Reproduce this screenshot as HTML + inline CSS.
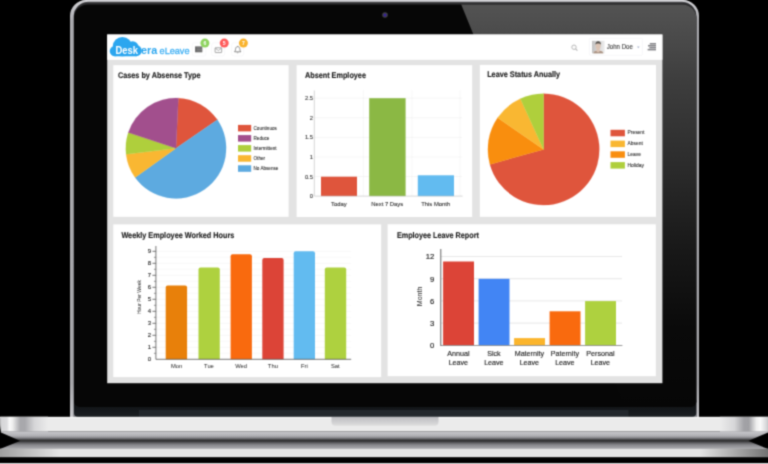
<!DOCTYPE html>
<html><head><meta charset="utf-8">
<style>
html,body{margin:0;padding:0;background:#000;}
body{width:768px;height:464px;overflow:hidden;position:relative;font-family:"Liberation Sans",sans-serif;}
svg{position:absolute;left:0;top:0;display:block;filter:url(#blr);}
text{font-family:"Liberation Sans",sans-serif;}
</style></head><body>
<svg width="768" height="464" viewBox="0 0 768 464">
<defs>
<filter id="blr" x="0" y="0" width="768" height="464" filterUnits="userSpaceOnUse" color-interpolation-filters="sRGB"><feConvolveMatrix order="3" kernelMatrix="0.0361 0.1178 0.0361 0.1178 0.3846 0.1178 0.0361 0.1178 0.0361" edgeMode="duplicate" preserveAlpha="true"/></filter>
<linearGradient id="lidEdge" x1="0" y1="0" x2="0" y2="1"><stop offset="0" stop-color="#d4d4d8"/><stop offset="0.05" stop-color="#aaaaae"/><stop offset="0.92" stop-color="#a6a6aa"/><stop offset="1" stop-color="#c6c6ca"/></linearGradient>
<linearGradient id="glare" x1="0" y1="0" x2="0" y2="1"><stop offset="0" stop-color="#545454"/><stop offset="0.12" stop-color="#474747"/><stop offset="0.2" stop-color="#3d3d3d"/><stop offset="0.4" stop-color="#2c2c2c"/><stop offset="0.6" stop-color="#191919"/><stop offset="0.8" stop-color="#0a0a0a"/><stop offset="1" stop-color="#060606"/></linearGradient>
<linearGradient id="hinge" x1="0" y1="0" x2="0" y2="1"><stop offset="0" stop-color="#0c0e10"/><stop offset="1" stop-color="#1b1f23"/></linearGradient>
<linearGradient id="baseV" x1="0" y1="0" x2="0" y2="1">
 <stop offset="0" stop-color="#f4f4f4"/><stop offset="0.6" stop-color="#ececec"/><stop offset="0.61" stop-color="#b0b0b2"/><stop offset="1" stop-color="#2a2a2a"/></linearGradient>
<linearGradient id="reflV" x1="0" y1="0" x2="0" y2="1">
 <stop offset="0" stop-color="#2a2a2a"/><stop offset="0.46" stop-color="#a8a8aa"/><stop offset="0.48" stop-color="#e2e2e2"/><stop offset="1" stop-color="#e6e6e6"/></linearGradient>
<linearGradient id="notch" x1="0" y1="0" x2="0" y2="1"><stop offset="0" stop-color="#bcbcc0"/><stop offset="1" stop-color="#dedede"/></linearGradient>
<linearGradient id="baseL" x1="0" y1="0" x2="1" y2="0">
 <stop offset="0" stop-color="#fff" stop-opacity="0.9"/><stop offset="0.15" stop-color="#fff" stop-opacity="0.2"/><stop offset="0.4" stop-color="#777" stop-opacity="0.45"/><stop offset="0.7" stop-color="#fff" stop-opacity="0.3"/><stop offset="1" stop-color="#fff" stop-opacity="0"/></linearGradient>
<linearGradient id="baseR" x1="1" y1="0" x2="0" y2="0">
 <stop offset="0" stop-color="#fff" stop-opacity="0.9"/><stop offset="0.15" stop-color="#fff" stop-opacity="0.2"/><stop offset="0.4" stop-color="#777" stop-opacity="0.45"/><stop offset="0.7" stop-color="#fff" stop-opacity="0.3"/><stop offset="1" stop-color="#fff" stop-opacity="0"/></linearGradient>
<clipPath id="bezelClip"><path d="M88,4.4 H682.2 A14,13 0 0 1 696.2,17.4 V402 A5,5 0 0 1 691.2,407 H79 A5,5 0 0 1 74,402 V17.4 A14,13 0 0 1 88,4.4Z"/></clipPath>
</defs>

<!-- background -->
<rect width="768" height="464" fill="#000"/>

<!-- lid silver edge -->
<path d="M86,0 H683 A16,16 0 0 1 699,16 V417 H70 V16 A16,16 0 0 1 86,0Z" fill="url(#lidEdge)"/>
<path d="M88,2.2 H682.2 A14,14 0 0 1 696.2,16.2 V417 H74 V16.2 A14,14 0 0 1 88,2.2Z" fill="none" stroke="#58585c" stroke-width="0.9"/>
<!-- hinge strip -->
<path d="M74,400 H696.2 V413 A4,4 0 0 1 692.2,417 H78 A4,4 0 0 1 74,413Z" fill="url(#hinge)"/>
<rect x="139" y="410" width="489.5" height="7.5" fill="#23282d"/>
<!-- bezel -->
<path d="M88,2.2 H682.2 A14,14 0 0 1 696.2,16.2 V402 A5,5 0 0 1 691.2,407 H79 A5,5 0 0 1 74,402 V16.2 A14,14 0 0 1 88,2.2Z" fill="#2e2e30"/>
<path d="M88,4.4 H682.2 A14,13 0 0 1 696.2,17.4 V402 A5,5 0 0 1 691.2,407 H79 A5,5 0 0 1 74,402 V17.4 A14,13 0 0 1 88,4.4Z" fill="#060606"/>
<!-- glare -->
<g clip-path="url(#bezelClip)">
<path d="M459.4,0 H700 V410 H625.9 Z" fill="url(#glare)"/>
</g>
<!-- camera -->
<circle cx="385" cy="15" r="2.8" fill="#404044"/><circle cx="385" cy="15" r="1.5" fill="#34209a"/>

<!-- screen -->
<rect x="107.2" y="34.5" width="555.2" height="348.7" fill="#e3e3e3"/>
<rect x="107.2" y="34.5" width="555.2" height="25.3" fill="#fff"/>

<!-- cards -->
<g fill="#fff">
<rect x="113.3" y="65.2" width="175.3" height="151.6"/>
<rect x="296.6" y="65.2" width="175.6" height="151.8"/>
<rect x="479.8" y="64.9" width="176.2" height="151.9"/>
<rect x="113.3" y="224.4" width="267.9" height="152.7"/>
<rect x="387.6" y="224.3" width="268.2" height="151.9"/>
</g>

<!-- header: logo -->
<g>
<g fill="#2ba6ef">
<circle cx="122.4" cy="46.6" r="9.7"/>
<circle cx="132.6" cy="47.2" r="6"/>
<circle cx="114.9" cy="51.1" r="5.2"/>
<circle cx="136.2" cy="50.6" r="5.6"/>
<rect x="114.5" y="47" width="22" height="9.3"/>
</g>
<text transform="translate(115.4,53.8) scale(0.9,1.04)" font-size="10.8" font-weight="bold" fill="#fff" textLength="25" lengthAdjust="spacingAndGlyphs">Desk</text>
<text transform="translate(141.1,53.8) scale(1,1.04)" font-size="10.6" font-weight="bold" fill="#2ba6ef" textLength="16.2" lengthAdjust="spacingAndGlyphs">era</text>
<text transform="translate(159.6,53.9) rotate(0.02) scale(1,1.05)" font-size="9.4" fill="#3fb0f4" stroke="#3fb0f4" stroke-width="0.3" textLength="29.9" lengthAdjust="spacingAndGlyphs">eLeave</text>
</g>
<!-- header icons -->
<g>
<rect x="192.3" y="42.8" width="13.6" height="13.2" rx="2.2" fill="#fff" stroke="#f3f3f7" stroke-width="0.6"/>
<rect x="195.1" y="46.4" width="7.2" height="5.9" fill="#666"/>
<path d="M196.6,47.9h5.7M196.6,49.4h5.7M196.6,50.9h5.7" stroke="#9c9c9c" stroke-width="0.5"/>
<circle cx="204.9" cy="43.1" r="4.5" fill="#8fd460"/>
<text x="204.9" y="44.9" font-size="5.1" font-weight="bold" fill="#fff" text-anchor="middle">6</text>

<rect x="211.7" y="42.8" width="13" height="13.2" rx="2.2" fill="#fff" stroke="#f3f3f7" stroke-width="0.6"/>
<rect x="215.1" y="47.8" width="6.6" height="4.8" rx="0.5" fill="none" stroke="#8c8c8c" stroke-width="0.75"/>
<path d="M215.2,48 L218.4,50.6 L221.6,48" fill="none" stroke="#8c8c8c" stroke-width="0.7"/>
<circle cx="224.25" cy="43.1" r="4.5" fill="#ff5b5b"/>
<text x="224.25" y="44.9" font-size="5.1" font-weight="bold" fill="#fff" text-anchor="middle">5</text>

<rect x="231.7" y="42.8" width="12" height="13.2" rx="2.2" fill="#fff" stroke="#f3f3f7" stroke-width="0.6"/>
<path d="M234.5,51.8 C235.6,51 235.4,49.6 235.6,48.6 C235.9,47.2 236.8,46.6 237.7,46.6 C238.6,46.6 239.5,47.2 239.8,48.6 C240,49.6 239.8,51 240.9,51.8 Z" fill="none" stroke="#666" stroke-width="0.7" stroke-linejoin="round"/>
<path d="M237,52.5 a0.8,0.8 0 0 0 1.4,0" fill="none" stroke="#666" stroke-width="0.6"/>
<path d="M237.7,46.6V45.9" stroke="#666" stroke-width="0.6"/>
<circle cx="243.4" cy="43.1" r="4.5" fill="#f9b32e"/>
<text x="243.4" y="44.9" font-size="5.1" font-weight="bold" fill="#fff" text-anchor="middle">7</text>
</g>
<!-- header right -->
<g>
<linearGradient id="avbg" x1="0" y1="0" x2="1" y2="0"><stop offset="0" stop-color="#c2c2c2"/><stop offset="1" stop-color="#ececec"/></linearGradient>
<circle cx="574" cy="47.2" r="2.2" fill="none" stroke="#b4b4b4" stroke-width="0.95"/>
<path d="M575.6,48.8 L577.4,50.6" stroke="#b4b4b4" stroke-width="1.1"/>
<rect x="589.4" y="38.3" width="53" height="17" rx="1" fill="#fff" stroke="#f1f1f5" stroke-width="0.6"/>
<rect x="592" y="40.8" width="12.6" height="12.5" fill="url(#avbg)"/>
<path d="M593.4,53.3 C593.8,51.2 595.4,50.8 596.6,50.4 L596.6,49 C595.6,48 595.4,46 595.7,44.6 C596,43 597,42.2 598.2,42.2 C599.5,42.2 600.5,43 600.7,44.6 C600.9,46 600.6,48 599.6,49 L599.6,50.4 C600.8,50.8 603,51.2 603.4,53.3 Z" fill="#dcc4b4"/>
<path d="M595.5,44.8 C595.2,42.6 596.4,41.3 598.2,41.3 C600,41.3 601.2,42.6 600.9,44.8 C600.5,43.8 599.8,43.5 598.2,43.5 C596.6,43.5 595.9,43.8 595.5,44.8Z" fill="#54504c"/>
<path d="M593.4,53.3 C593.8,51.6 595,51.2 596,51 L598.1,52.6 L600.2,51 C601.3,51.2 603,51.6 603.4,53.3Z" fill="#a89282"/>
<text x="606.8" y="49.1" font-size="6.6" fill="#3c3c3c" stroke="#3c3c3c" stroke-width="0.12" textLength="26" lengthAdjust="spacingAndGlyphs">John Doe</text>
<path d="M637,46.5 h2.6 l-1.3,1.7z" fill="#a8b2cc"/>
<g fill="#858589"><rect x="649.8" y="43" width="6.2" height="1.55"/><rect x="648" y="44.95" width="8" height="1.55"/><rect x="649.4" y="46.9" width="6.6" height="1.55"/><rect x="647.6" y="48.85" width="8.4" height="1.55"/></g>
</g>

<!-- card titles -->
<g font-weight="bold" font-size="8.2" fill="#1c1c1c" stroke="#1c1c1c" stroke-width="0.14" transform="rotate(0.03)">
<text x="118" y="78.3" textLength="82.5" lengthAdjust="spacingAndGlyphs">Cases by Absense Type</text>
<text x="305" y="78.3" textLength="61" lengthAdjust="spacingAndGlyphs">Absent Employee</text>
<text x="487.2" y="76.5" textLength="73" lengthAdjust="spacingAndGlyphs">Leave Status Anually</text>
<text x="121.5" y="238" textLength="113" lengthAdjust="spacingAndGlyphs">Weekly Employee Worked Hours</text>
<text x="397" y="238.2" textLength="82" lengthAdjust="spacingAndGlyphs">Employee Leave Report</text>
</g>

<!-- pie 1 -->
<g>
<path d="M176.0,148.3L178.36,98.16A50.2,50.2 0 0 1 217.37,119.87Z" fill="#DF553C" stroke="#DF553C" stroke-width="0.3"/>
<path d="M176.0,148.3L217.37,119.87A50.2,50.2 0 0 1 135.13,177.45Z" fill="#5DAAE0" stroke="#5DAAE0" stroke-width="0.3"/>
<path d="M176.0,148.3L135.13,177.45A50.2,50.2 0 0 1 126.14,154.16Z" fill="#F9B732" stroke="#F9B732" stroke-width="0.3"/>
<path d="M176.0,148.3L126.14,154.16A50.2,50.2 0 0 1 128.34,132.54Z" fill="#AFCF3C" stroke="#AFCF3C" stroke-width="0.3"/>
<path d="M176.0,148.3L128.34,132.54A50.2,50.2 0 0 1 178.36,98.16Z" fill="#A24F8D" stroke="#A24F8D" stroke-width="0.3"/>
<g>
<rect x="238" y="124.9" width="13.2" height="6.5" fill="#DF553C"/>
<rect x="238" y="135.1" width="13.2" height="6.5" fill="#A24F8D"/>
<rect x="238" y="145.1" width="13.2" height="6.5" fill="#AFCF3C"/>
<rect x="238" y="155.2" width="13.2" height="6.5" fill="#F9B732"/>
<rect x="238" y="165.3" width="13.2" height="6.5" fill="#5DAAE0"/>
</g>
<g font-size="4.6" fill="#2c2c2c" stroke="#2c2c2c" stroke-width="0.08" transform="rotate(0.02)">
<text x="253.6" y="129.6">Countinuos</text>
<text x="253.6" y="139.9">Reduce</text>
<text x="253.6" y="149.9">Intermittent</text>
<text x="253.6" y="159.9">Other</text>
<text x="253.6" y="170.1">No Absense</text>
</g>
</g>

<!-- bar chart 2 -->
<g>
<g stroke="#ececec" stroke-width="0.5">
<path d="M314.3,98.2H462M314.3,117.8H462M314.3,137.4H462M314.3,157H462M314.3,176.5H462"/>
</g>
<g stroke="#e2e2e2" stroke-width="0.5" stroke-dasharray="1,1">
<path d="M363.3,90.5V196M411.9,90.5V196M460,90.5V196"/>
</g>
<rect x="321" y="176.7" width="36" height="19.4" fill="#DF553C"/>
<rect x="369.2" y="98.2" width="36.4" height="97.9" fill="#8BB844"/>
<rect x="417.8" y="175.3" width="36.2" height="20.8" fill="#62BBF0"/>
<path d="M314.3,90.5V196.1H462.6" fill="none" stroke="#bbb" stroke-width="0.6"/>
<g font-size="5.8" fill="#2a2a2a" stroke="#2a2a2a" stroke-width="0.08" text-anchor="end" transform="rotate(0.02)">
<text x="313" y="100.2">2.5</text>
<text x="313" y="119.8">2</text>
<text x="313" y="139.4">1.5</text>
<text x="313" y="159">1</text>
<text x="313" y="178.5">0.5</text>
<text x="313" y="198.1">0</text>
</g>
<g font-size="5.9" fill="#2a2a2a" stroke="#2a2a2a" stroke-width="0.08" text-anchor="middle" transform="rotate(0.02)">
<text x="339" y="206">Today</text>
<text x="387.3" y="206">Next 7 Days</text>
<text x="435.8" y="206">This Month</text>
</g>
</g>

<!-- pie 3 -->
<g>
<path d="M543.6,149.4L543.60,93.70A55.7,55.7 0 1 1 489.95,164.38Z" fill="#DF553C" stroke="#DF553C" stroke-width="0.3"/>
<path d="M543.6,149.4L489.95,164.38A55.7,55.7 0 0 1 497.70,117.85Z" fill="#F98E0E" stroke="#F98E0E" stroke-width="0.3"/>
<path d="M543.6,149.4L497.70,117.85A55.7,55.7 0 0 1 520.41,98.76Z" fill="#F9B732" stroke="#F9B732" stroke-width="0.3"/>
<path d="M543.6,149.4L520.41,98.76A55.7,55.7 0 0 1 543.60,93.70Z" fill="#AFCF3C" stroke="#AFCF3C" stroke-width="0.3"/>
<rect x="610.5" y="129.8" width="14.4" height="6.5" fill="#DF553C"/>
<rect x="610.5" y="140.6" width="14.4" height="6.5" fill="#F9B732"/>
<rect x="610.5" y="151.3" width="14.4" height="6.5" fill="#F98E0E"/>
<rect x="610.5" y="162.1" width="14.4" height="6.5" fill="#AFCF3C"/>
<g font-size="4.9" fill="#2c2c2c" stroke="#2c2c2c" stroke-width="0.08" transform="rotate(0.02)">
<text x="627.6" y="133.8">Present</text>
<text x="627.6" y="144.7">Absent</text>
<text x="627.6" y="155.6">Leave</text>
<text x="627.6" y="166.4">Holiday</text>
</g>
</g>

<!-- bar chart 4 -->
<g>
<g stroke="#eeeeee" stroke-width="0.5">
<path d="M156,251.3H351M156,263.3H351M156,275.3H351M156,287.3H351M156,299.3H351M156,311.3H351M156,323.3H351M156,335.3H351M156,347.3H351"/>
<path d="M156,257.3H351M156,269.3H351M156,281.3H351M156,293.3H351M156,305.3H351M156,317.3H351M156,329.3H351M156,341.3H351M156,353.3H351" stroke="#f3f3f3"/>
</g>
<g>
<path d="M165.7,359.3V287.6a2,2 0 0 1 2,-2h17.4a2,2 0 0 1 2,2V359.3Z" fill="#E8800A"/>
<path d="M198.5,359.3V269.5a2,2 0 0 1 2,-2h17.3a2,2 0 0 1 2,2V359.3Z" fill="#AED13F"/>
<path d="M230.6,359.3V256.3a2,2 0 0 1 2,-2h17.3a2,2 0 0 1 2,2V359.3Z" fill="#F96A0E"/>
<path d="M262.3,359.3V260a2,2 0 0 1 2,-2h17.3a2,2 0 0 1 2,2V359.3Z" fill="#DC4437"/>
<path d="M293.7,359.3V253.3a2,2 0 0 1 2,-2h17.3a2,2 0 0 1 2,2V359.3Z" fill="#62BBF0"/>
<path d="M324.8,359.3V269.5a2,2 0 0 1 2,-2h17.4a2,2 0 0 1 2,2V359.3Z" fill="#AED13F"/>
</g>
<path d="M155.9,246V359.3H351.2" fill="none" stroke="#555" stroke-width="0.8"/>
<path d="M152.4,251.3h3.5M152.4,263.3h3.5M152.4,275.3h3.5M152.4,287.3h3.5M152.4,299.3h3.5M152.4,311.3h3.5M152.4,323.3h3.5M152.4,335.3h3.5M152.4,347.3h3.5" stroke="#555" stroke-width="0.8"/>
<path d="M153.9,257.3h2M153.9,269.3h2M153.9,281.3h2M153.9,293.3h2M153.9,305.3h2M153.9,317.3h2M153.9,329.3h2M153.9,341.3h2M153.9,353.3h2" stroke="#555" stroke-width="0.6"/>
<g font-size="6" fill="#222" stroke="#222" stroke-width="0.1" text-anchor="end" transform="rotate(0.02)">
<text x="151.2" y="253.2">9</text><text x="151.2" y="265.2">8</text><text x="151.2" y="277.2">7</text><text x="151.2" y="289.2">6</text><text x="151.2" y="301.2">5</text><text x="151.2" y="313.2">4</text><text x="151.2" y="325.2">3</text><text x="151.2" y="337.2">2</text><text x="151.2" y="349.2">1</text><text x="151.2" y="361.2">0</text>
</g>
<g font-size="5.8" fill="#222" text-anchor="middle" transform="rotate(0.02)">
<text x="176.7" y="367.8">Mon</text><text x="209.1" y="367.8">Tue</text><text x="241.2" y="367.8">Wed</text><text x="273" y="367.8">Thu</text><text x="304.5" y="367.8">Fri</text><text x="335.4" y="367.8">Sat</text>
</g>
<text transform="translate(141.3,297) rotate(-90)" font-size="5" fill="#222" text-anchor="middle">Hour Per Week</text>
</g>

<!-- bar chart 5 -->
<g>
<g stroke="#dedede" stroke-width="0.7">
<path d="M441,256.5H622M441,278.7H622M441,300.9H622M441,323.1H622"/>
</g>
<rect x="443.1" y="261.5" width="30.9" height="83.8" fill="#DC4437"/>
<rect x="478.6" y="278.8" width="30.9" height="66.5" fill="#4285F4"/>
<rect x="514.1" y="338.1" width="30.9" height="7.2" fill="#FBB52C"/>
<rect x="549.6" y="311.3" width="30.9" height="34" fill="#F96A0E"/>
<rect x="585.1" y="301.1" width="30.9" height="44.2" fill="#AED13F"/>
<path d="M440.8,345.5H622.4" fill="none" stroke="#808080" stroke-width="0.8"/><path d="M440.8,249V345.9" fill="none" stroke="#555" stroke-width="0.9"/>
<g font-size="7.7" fill="#161616" stroke="#161616" stroke-width="0.14" text-anchor="end" transform="rotate(0.02)">
<text x="434.5" y="259.3">12</text><text x="434.5" y="281.5">9</text><text x="434.5" y="303.7">6</text><text x="434.5" y="325.9">3</text><text x="434.5" y="348.3">0</text>
</g>
<g font-size="7.15" fill="#1c1c1c" stroke="#1c1c1c" stroke-width="0.12" text-anchor="middle" transform="rotate(0.02)">
<text x="458.5" y="356.2">Annual</text><text x="458.5" y="365.2">Leave</text>
<text x="494" y="356.2">Sick</text><text x="494" y="365.2">Leave</text>
<text x="529.5" y="356.2">Maternity</text><text x="529.5" y="365.2">Leave</text>
<text x="565" y="356.2">Paternity</text><text x="565" y="365.2">Leave</text>
<text x="600.5" y="356.2">Personal</text><text x="600.5" y="365.2">Leave</text>
</g>
<text transform="translate(422.3,296.4) rotate(-90)" font-size="7" fill="#222" text-anchor="middle">Month</text>
</g>

<!-- base -->
<g>
<linearGradient id="wedge" x1="0" y1="0" x2="0" y2="1"><stop offset="0" stop-color="#c8c8cc"/><stop offset="0.45" stop-color="#b0b0b4"/><stop offset="0.65" stop-color="#8a8a8e"/><stop offset="0.85" stop-color="#4a4a4c"/><stop offset="1" stop-color="#2a2a2a"/></linearGradient>
<linearGradient id="wedgeR" x1="0" y1="0" x2="0" y2="1"><stop offset="0" stop-color="#2a2a2a"/><stop offset="0.2" stop-color="#555558"/><stop offset="0.5" stop-color="#88888c"/><stop offset="1" stop-color="#acacb0"/></linearGradient>
<linearGradient id="brushL" gradientUnits="userSpaceOnUse" x1="0" y1="0" x2="48" y2="0">
<stop offset="0" stop-color="#c4c4c6"/><stop offset="0.03" stop-color="#d6d6d8"/><stop offset="0.14" stop-color="#dcdcde"/><stop offset="0.2" stop-color="#fafafa"/><stop offset="0.26" stop-color="#eeeeee"/><stop offset="0.42" stop-color="#a8a8ac"/><stop offset="0.52" stop-color="#a8a8ac"/><stop offset="0.72" stop-color="#d6d6d8"/><stop offset="1" stop-color="#ebebeb"/></linearGradient>
<linearGradient id="brushR" gradientUnits="userSpaceOnUse" x1="768" y1="0" x2="720" y2="0">
<stop offset="0" stop-color="#c4c4c6"/><stop offset="0.03" stop-color="#d6d6d8"/><stop offset="0.08" stop-color="#e4e4e6"/><stop offset="0.16" stop-color="#fafafa"/><stop offset="0.24" stop-color="#eeeeee"/><stop offset="0.40" stop-color="#a0a0a4"/><stop offset="0.50" stop-color="#a2a2a6"/><stop offset="0.70" stop-color="#d6d6d8"/><stop offset="1" stop-color="#ebebeb"/></linearGradient>
<linearGradient id="fadeL" x1="0" y1="0" x2="1" y2="0"><stop offset="0" stop-color="#000" stop-opacity="0.3"/><stop offset="1" stop-color="#000" stop-opacity="0"/></linearGradient>
<linearGradient id="fadeR" x1="1" y1="0" x2="0" y2="0"><stop offset="0" stop-color="#000" stop-opacity="0.5"/><stop offset="1" stop-color="#000" stop-opacity="0"/></linearGradient>
<path d="M0.4,416.9 H768 V431.6 H1 Q0,424 0.4,416.9Z" fill="#ebebeb"/>
<rect x="0" y="416.8" width="768" height="1.3" fill="#f6f6f6"/>
<path d="M331.5,417 H438.5 V421.8 A4,4 0 0 1 434.5,425.8 H335.5 A4,4 0 0 1 331.5,421.8Z" fill="url(#notch)"/>
<path d="M0.4,416.8 H48 V431.6 H1 Q0,424 0.4,416.8Z" fill="url(#brushL)"/>
<rect x="720" y="416.8" width="48" height="14.8" fill="url(#brushR)"/>
<path d="M0.6,431.6 H768 V432.6 L748,441 H20.5 L1,432.6 Z" fill="url(#wedge)"/>
<path d="M20.5,440.8 H748 L768,449 H0 Z" fill="url(#wedgeR)"/>
<rect x="0" y="448.8" width="768" height="8.6" fill="#e4e4e4"/>
<rect x="0" y="448.8" width="60" height="8.6" fill="url(#fadeL)"/>
<rect x="700" y="448.8" width="68" height="8.6" fill="url(#fadeR)"/>
<rect x="0" y="457.4" width="768" height="7" fill="#000"/>
<rect x="0" y="463" width="768" height="1" fill="#d8d8d8"/>
</g>
</svg>
</body></html>
